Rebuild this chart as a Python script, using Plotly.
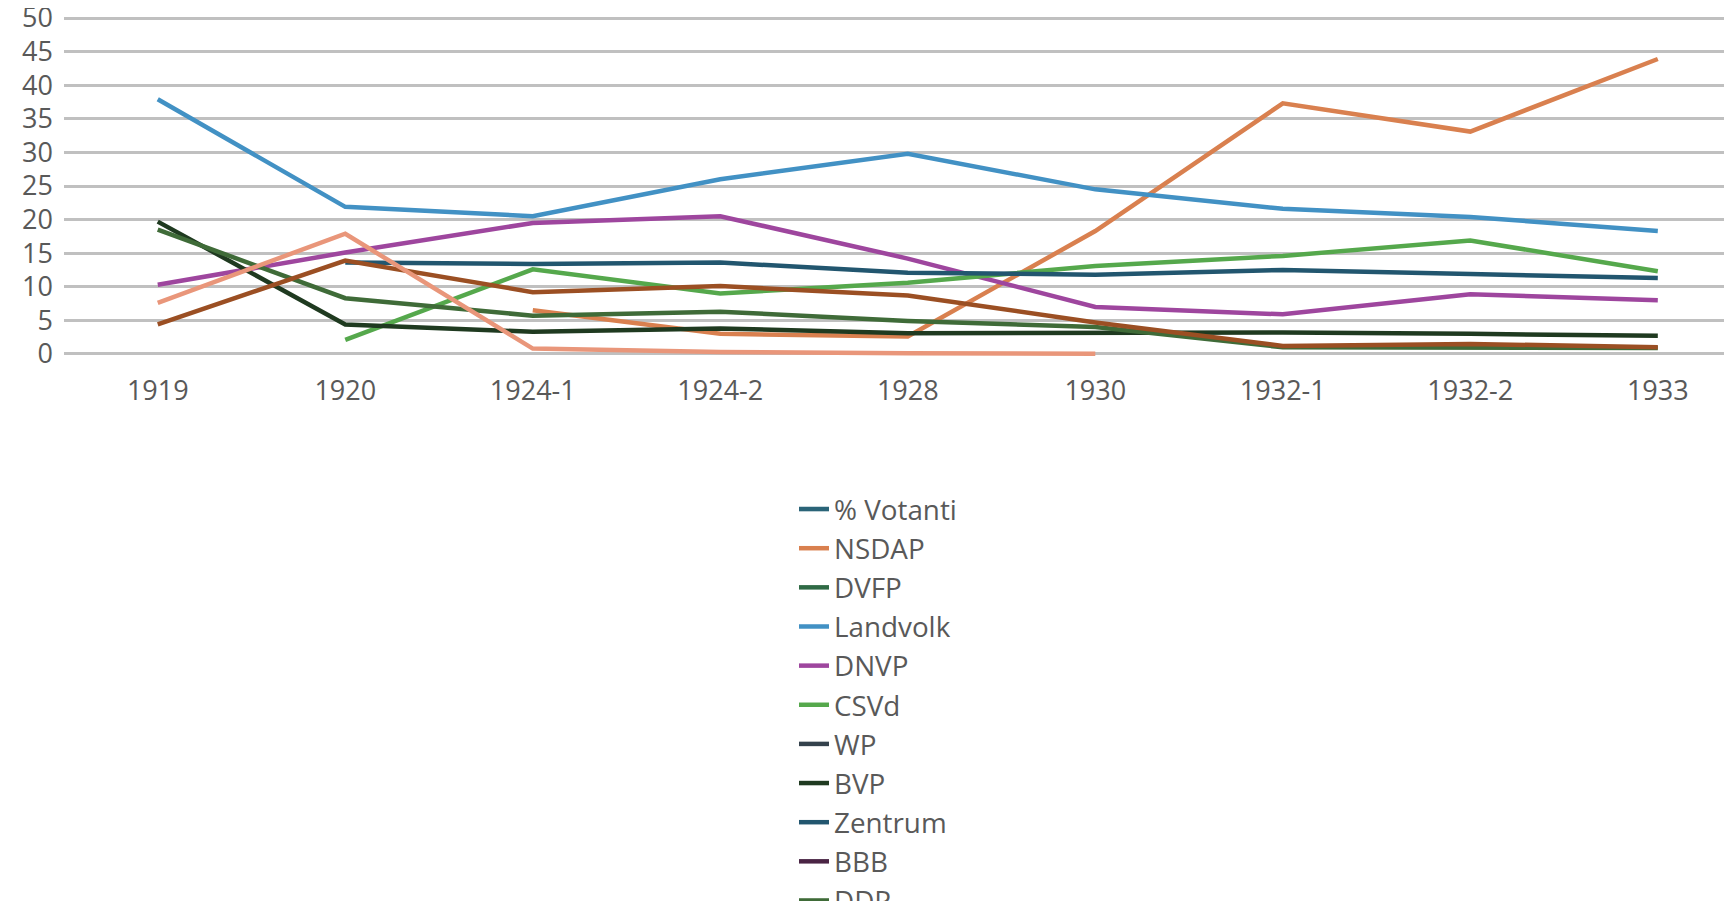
import plotly.graph_objects as go

categories = ["1919", "1920", "1924-1", "1924-2", "1928", "1930", "1932-1", "1932-2", "1933"]
y_ticks = [0, 5, 10, 15, 20, 25, 30, 35, 40, 45, 50]

# series values (None = no data)
votanti = [None] * 9
nsdap = [None, None, 6.5, 3.0, 2.6, 18.3, 37.3, 33.1, 43.9]
dvfp = [None] * 9
landvolk = [37.9, 21.9, 20.5, 26.0, 29.8, 24.5, 21.6, 20.4, 18.3]
dnvp = [10.3, 15.1, 19.5, 20.5, 14.2, 7.0, 5.9, 8.9, 8.0]
csvd = [None, 2.1, 12.6, 9.0, 10.6, 13.1, 14.6, 16.9, 12.3]
wp = [None] * 9
bvp = [19.7, 4.4, 3.3, 3.8, 3.1, 3.1, 3.2, 3.0, 2.7]
zentrum = [None, 13.6, 13.4, 13.6, 12.1, 11.8, 12.5, 11.9, 11.3]
bbb = [None] * 9
ddp = [18.5, 8.3, 5.7, 6.3, 4.9, 4.0, 1.0, 1.0, 0.9]
dvp = [4.4, 13.9, 9.2, 10.1, 8.7, 4.7, 1.2, 1.5, 1.0]
uspd = [7.6, 17.9, 0.8, 0.3, 0.1, 0.05, None, None, None]

series = [
    ("% Votanti", votanti, "#2a6478", True),
    ("NSDAP", nsdap, "#d9804f", True),
    ("DVFP", dvfp, "#2f6a45", True),
    ("Landvolk", landvolk, "#4291c4", True),
    ("DNVP", dnvp, "#9e469e", True),
    ("CSVd", csvd, "#55a84c", True),
    ("WP", wp, "#34424c", True),
    ("BVP", bvp, "#1f3a20", True),
    ("Zentrum", zentrum, "#22566f", True),
    ("BBB", bbb, "#4a2444", True),
    ("DDP", ddp, "#3f6b38", True),
    ("DVP", dvp, "#9b4f23", False),
    ("USPD", uspd, "#e9967a", False),
]

fig = go.Figure()
for name, vals, color, show in series:
    fig.add_trace(go.Scatter(
        x=categories, y=vals, name=name, mode="lines",
        line=dict(color=color, width=4.5),
        showlegend=show, connectgaps=False,
    ))

W, H = 1716, 893
fig.update_layout(
    width=W, height=H,
    paper_bgcolor="white", plot_bgcolor="white",
    margin=dict(l=56, r=0, t=8, b=H - 8 - 340, autoexpand=False),
    font=dict(family="Open Sans", color="#595959", size=27),
    xaxis=dict(
        type="category", categoryorder="array", categoryarray=categories,
        range=[-0.5, 8.353], showgrid=False, zeroline=False, showline=False,
        tickfont=dict(size=27, color="#595959"), ticklabelstandoff=16,
    ),
    yaxis=dict(
        range=[-0.3, 50.3], tickvals=y_ticks, showgrid=True,
        gridcolor="#c0c0c0", gridwidth=3, zeroline=False, showline=False,
        tickfont=dict(size=27, color="#595959"), ticklabelstandoff=10,
        ticklabeloverflow="allow",
    ),
    legend=dict(
        xref="container", yref="container", x=786 / W, y=1 - 476.5 / H,
        xanchor="left", yanchor="top", orientation="v",
        font=dict(size=27.8, color="#595959"), bgcolor="rgba(0,0,0,0)",
        maxheight=600,
    ),
    showlegend=True,
)

fig.write_html("out.html")
